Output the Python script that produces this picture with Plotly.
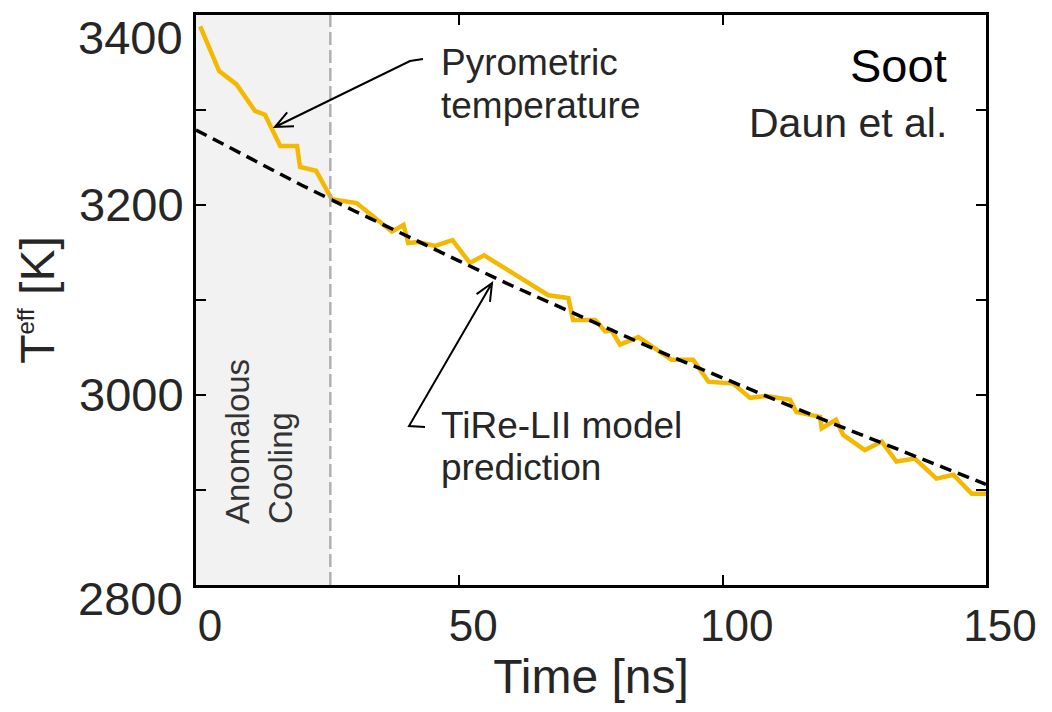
import math
import plotly.graph_objects as go

# ---------------- data ----------------
pyro_t = [0.8, 4.4, 7.7, 11.2, 13.1, 16.0, 19.2, 19.75, 22.8, 25.8, 30.5, 34.0, 37.2, 39.4,
          40.3, 42.2, 45.4, 48.7, 52.0, 54.7, 66.9, 70.7, 71.6, 75.8, 77.7, 78.9, 80.5,
          84.0, 87.8, 90.3, 94.4, 97.3, 102.0, 105.2, 108.4, 112.8, 114.0, 118.5, 118.8,
          121.5, 122.9, 127.0, 130.2, 133.0, 136.5, 140.6, 143.8, 147.3, 150.0]
pyro_T = [3388, 3341, 3327, 3299, 3295, 3262, 3262, 3240, 3236, 3206, 3202, 3186, 3172, 3179,
          3160, 3161, 3157, 3163, 3139, 3147, 3105, 3102, 3079, 3079, 3067, 3068, 3053,
          3061, 3047, 3037, 3037, 3014, 3012, 2997, 2999, 2995, 2982, 2977, 2965,
          2974, 2958, 2942, 2951, 2930, 2933, 2912, 2916, 2896, 2896]

model_t = [0, 10, 20, 30, 40, 50, 60, 70, 80, 90, 100, 110, 120, 130, 140, 150]
model_T = [3279, 3250, 3221, 3194, 3167, 3141, 3115, 3090, 3065, 3041, 3018, 2995, 2972, 2950, 2928, 2906]

anomalous_end = 25.5

x_ticks = [0, 50, 100, 150]
y_ticks = [3000, 3200]
y_tick_labels = ["3000", "3200"]
y_edge_labels = ["3400", "2800"]

# ---------------- layout helpers ----------------
W, H = 1052, 712
L, R, T, B = 196, 986, 15, 585
FONT = "Arial, Liberation Sans, Helvetica, sans-serif"
TXT = "#262626"


def pxx(x):
    return (x - L) / (R - L)


def pxy(y):
    return (B - y) / (B - T)


def callout_path(points, tip, tail, wing_len=19, wing_ang=24):
    d = "M " + " L ".join(f"{pxx(x):.5f},{pxy(y):.5f}" for x, y in points)
    dx, dy = tail[0] - tip[0], tail[1] - tip[1]
    n = math.hypot(dx, dy)
    ux, uy = dx / n, dy / n
    wings = []
    for s in (1, -1):
        a = math.radians(wing_ang * s)
        wx = ux * math.cos(a) - uy * math.sin(a)
        wy = ux * math.sin(a) + uy * math.cos(a)
        wings.append((tip[0] + wx * wing_len, tip[1] + wy * wing_len))
    d += (f" M {pxx(wings[0][0]):.5f},{pxy(wings[0][1]):.5f}"
          f" L {pxx(tip[0]):.5f},{pxy(tip[1]):.5f}"
          f" L {pxx(wings[1][0]):.5f},{pxy(wings[1][1]):.5f}")
    return d


fig = go.Figure()

fig.add_trace(go.Scatter(x=pyro_t, y=pyro_T, mode="lines",
                         line=dict(color="#F5B800", width=4.5),
                         showlegend=False, hoverinfo="skip"))
fig.add_trace(go.Scatter(x=model_t, y=model_T, mode="lines",
                         line=dict(color="black", width=3.5, dash="12px,7px"),
                         showlegend=False, hoverinfo="skip"))

shapes = [
    dict(type="rect", xref="x", yref="paper", x0=0, x1=anomalous_end, y0=0, y1=1,
         fillcolor="#f2f2f2", line=dict(width=0), layer="below"),
    dict(type="line", xref="x", yref="paper", x0=anomalous_end, x1=anomalous_end, y0=0, y1=1,
         line=dict(color="#b0b0b0", width=2.5, dash="13px,5px"), layer="above"),
    dict(type="path", xref="paper", yref="paper",
         path=callout_path([(423, 59), (410, 61), (275, 127)], (275, 127), (410, 61)),
         line=dict(color="black", width=2)),
    dict(type="path", xref="paper", yref="paper",
         path=callout_path([(425, 427), (409, 426), (492, 283)], (492, 283), (409, 426)),
         line=dict(color="black", width=2)),
]

annotations = [
    dict(text="Soot", xref="paper", yref="paper", x=pxx(949), y=pxy(66),
         xanchor="right", yanchor="middle", showarrow=False,
         font=dict(family=FONT, size=47, color="black")),
    dict(text="Daun et al.", xref="paper", yref="paper", x=pxx(949), y=pxy(123),
         xanchor="right", yanchor="middle", showarrow=False,
         font=dict(family=FONT, size=41, color=TXT)),
    dict(text="Pyrometric", xref="paper", yref="paper", x=pxx(439), y=pxy(62),
         xanchor="left", yanchor="middle", showarrow=False,
         font=dict(family=FONT, size=37, color=TXT)),
    dict(text="temperature", xref="paper", yref="paper", x=pxx(439), y=pxy(105),
         xanchor="left", yanchor="middle", showarrow=False,
         font=dict(family=FONT, size=37, color=TXT)),
    dict(text="TiRe-LII model", xref="paper", yref="paper", x=pxx(439), y=pxy(425),
         xanchor="left", yanchor="middle", showarrow=False,
         font=dict(family=FONT, size=37, color=TXT)),
    dict(text="prediction", xref="paper", yref="paper", x=pxx(439), y=pxy(467),
         xanchor="left", yanchor="middle", showarrow=False,
         font=dict(family=FONT, size=37, color=TXT)),
    dict(text="Anomalous<br>Cooling", xref="paper", yref="paper", x=pxx(259), y=pxy(442),
         xanchor="center", yanchor="middle", showarrow=False, textangle=-90, align="left",
         font=dict(family=FONT, size=33, color="#333333")),
    # edge y tick labels (kept inside the page as in the reference)
    dict(text=y_edge_labels[0], xref="paper", yref="paper", x=pxx(185), y=pxy(37),
         xanchor="right", yanchor="middle", showarrow=False,
         font=dict(family=FONT, size=47, color=TXT)),
    dict(text=y_edge_labels[1], xref="paper", yref="paper", x=pxx(185), y=pxy(598),
         xanchor="right", yanchor="middle", showarrow=False,
         font=dict(family=FONT, size=47, color=TXT)),
]

fig.update_layout(
    width=W, height=H, autosize=False,
    margin=dict(l=L, r=W - R, t=T, b=H - B, pad=0),
    paper_bgcolor="white", plot_bgcolor="white",
    font=dict(family=FONT, color=TXT),
    shapes=shapes, annotations=annotations,
    xaxis=dict(range=[0, 150], tickvals=x_ticks, ticks="inside", ticklen=10, tickwidth=2,
               tickcolor="black", showline=True, linecolor="black", linewidth=3,
               mirror="ticks", showgrid=False, zeroline=False,
               tickfont=dict(family=FONT, size=44, color=TXT),
               ticklabelshift=14,
               title=dict(text="Time [ns]", font=dict(family=FONT, size=48, color=TXT), standoff=4)),
    yaxis=dict(range=[2800, 3400], tickvals=y_ticks, ticktext=y_tick_labels, ticks="inside",
               ticklen=10, tickwidth=2, tickcolor="black", showline=True, linecolor="black",
               linewidth=3, mirror="ticks", showgrid=False, zeroline=False,
               minor=dict(ticks="inside", dtick=100, tick0=2800, ticklen=10, tickwidth=2,
                          tickcolor="black", showgrid=False),
               tickfont=dict(family=FONT, size=47, color=TXT),
               title=dict(text="T<sup><span style='font-size:24px'>eff</span></sup> [K]",
                          font=dict(family=FONT, size=48, color=TXT), standoff=10)),
)

fig.write_html("out.html")
